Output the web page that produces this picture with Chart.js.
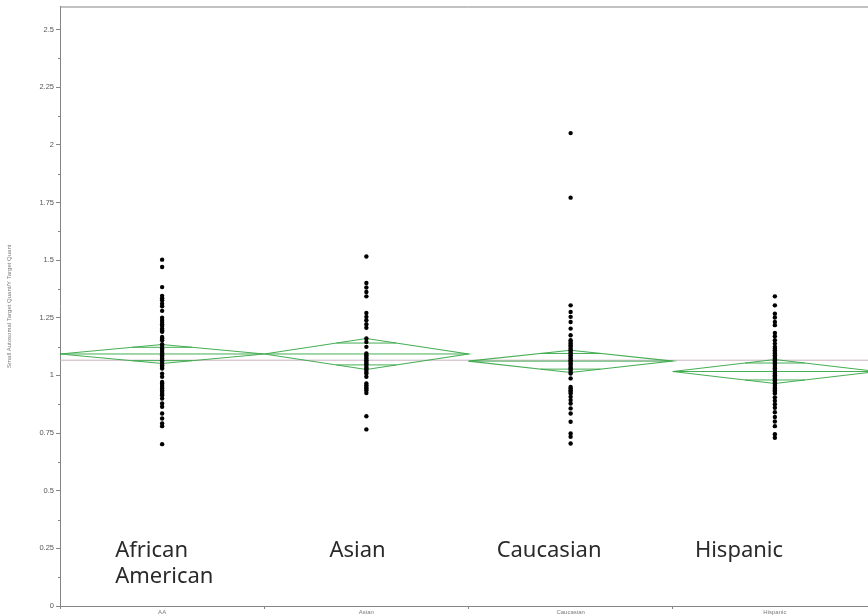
<!DOCTYPE html>
<html>
<head>
<meta charset="utf-8">
<script src="https://cdn.jsdelivr.net/npm/chart.js@4/dist/chart.umd.min.js"></script>
<style>
  html, body { margin: 0; padding: 0; background: #fff; overflow: hidden; width: 868px; height: 615px; }
  canvas { display: block; }
</style>
</head>
<body>
<canvas id="c" width="880" height="615"></canvas>
<script>
// Groups on the x axis
const groups = ['AA', 'Asian', 'Caucasian', 'Hispanic'];
const groupNames = [['African', 'American'], ['Asian'], ['Caucasian'], ['Hispanic']];

// Y axis ticks
const yTicks = [0, 0.25, 0.5, 0.75, 1, 1.25, 1.5, 1.75, 2, 2.25, 2.5];
const yMinorTicks = [0.125, 0.375, 0.625, 0.875, 1.125, 1.375, 1.625, 1.875, 2.125, 2.375];

// Individual ratios per group
const aaValues = [1.502, 1.470, 1.383, 1.345, 1.335, 1.326, 1.311, 1.300, 1.280, 1.250, 1.240, 1.232,
  1.222, 1.214, 1.203, 1.195, 1.189, 1.167, 1.160, 1.153, 1.135, 1.128, 1.117, 1.110, 1.102, 1.095,
  1.088, 1.080, 1.073, 1.066, 1.058, 1.051, 1.044, 1.037, 1.030, 1.008, 0.994, 0.972, 0.965, 0.958,
  0.950, 0.943, 0.935, 0.928, 0.920, 0.914, 0.900, 0.878, 0.864, 0.835, 0.813, 0.792, 0.780, 0.702];
const asianValues = [1.516, 1.401, 1.381, 1.362, 1.343, 1.271, 1.254, 1.239, 1.222, 1.207, 1.160, 1.145,
  1.124, 1.095, 1.087, 1.080, 1.073, 1.066, 1.059, 1.052, 1.045, 1.037, 1.030, 1.023, 1.015, 1.008,
  0.994, 0.965, 0.957, 0.950, 0.943, 0.936, 0.924, 0.823, 0.766];
const caucasianValues = [2.051, 1.771, 1.304, 1.275, 1.254, 1.232, 1.203, 1.174, 1.153, 1.145, 1.138,
  1.131, 1.124, 1.116, 1.109, 1.102, 1.095, 1.087, 1.080, 1.073, 1.066, 1.059, 1.052, 1.045, 1.037,
  1.030, 1.023, 1.015, 1.008, 0.987, 0.950, 0.943, 0.936, 0.929, 0.922, 0.907, 0.893, 0.878, 0.857,
  0.835, 0.799, 0.748, 0.734, 0.705];
const hispanicValues = [1.343, 1.304, 1.268, 1.251, 1.232, 1.218, 1.184, 1.170, 1.153, 1.138, 1.124,
  1.116, 1.109, 1.102, 1.095, 1.087, 1.080, 1.073, 1.066, 1.059, 1.052, 1.045, 1.037, 1.030, 1.023,
  1.015, 1.008, 1.001, 0.994, 0.987, 0.979, 0.972, 0.965, 0.958, 0.950, 0.943, 0.936, 0.929, 0.922,
  0.905, 0.890, 0.875, 0.860, 0.840, 0.820, 0.800, 0.780, 0.745, 0.730];

// Means diamonds: group mean and 95% confidence limits
const groupMeans = [1.093, 1.093, 1.062, 1.017];
const ciUpper = [1.134, 1.160, 1.109, 1.069];
const ciLower = [1.052, 1.026, 1.013, 0.965];
const grandMean = 1.066;

const groupValues = [aaValues, asianValues, caucasianValues, hispanicValues];
const GREEN = 'rgba(60,170,75,0.95)';
const AXIS = '#858585';

const datasets = [];

// grand mean reference line
datasets.push({
  type: 'line', showLine: true, order: 3,
  data: [{ x: -0.5, y: grandMean }, { x: 3.5, y: grandMean }],
  borderColor: 'rgba(195,170,185,0.9)', borderWidth: 1, pointRadius: 0, fill: false
});

groups.forEach((g, i) => {
  const m = groupMeans[i], hi = ciUpper[i], lo = ciLower[i];
  // diamond outline
  datasets.push({
    type: 'line', showLine: true, order: 2,
    data: [{ x: i - 0.5, y: m }, { x: i, y: hi }, { x: i + 0.5, y: m }, { x: i, y: lo }, { x: i - 0.5, y: m }],
    borderColor: GREEN, borderWidth: 1.1, pointRadius: 0, fill: false, tension: 0
  });
  // mean line across the diamond
  datasets.push({
    type: 'line', showLine: true, order: 2,
    data: [{ x: i - 0.5, y: m }, { x: i + 0.5, y: m }],
    borderColor: GREEN, borderWidth: 1, pointRadius: 0, fill: false
  });
  // overlap marks
  const k = Math.SQRT1_2;
  const w = 0.5 * (1 - k);
  [m + (hi - m) * k, m - (m - lo) * k].forEach(yv => {
    datasets.push({
      type: 'line', showLine: true, order: 2,
      data: [{ x: i - w, y: yv }, { x: i + w, y: yv }],
      borderColor: GREEN, borderWidth: 1, pointRadius: 0, fill: false
    });
  });
  // individual points
  datasets.push({
    type: 'scatter', order: 0,
    data: groupValues[i].map(v => ({ x: i, y: v })),
    backgroundColor: '#000', borderWidth: 0, pointRadius: 2.2, pointHoverRadius: 2.2
  });
});

const decorPlugin = {
  id: 'decor',
  beforeDatasetsDraw(chart) {
    const { ctx, chartArea: a, scales: { y } } = chart;
    ctx.save();
    ctx.strokeStyle = AXIS;
    ctx.lineWidth = 1;
    // top and right frame
    ctx.beginPath();
    ctx.moveTo(a.left, a.top + 0.5);
    ctx.lineTo(a.right, a.top + 0.5);
    ctx.moveTo(a.right - 0.5, a.top);
    ctx.lineTo(a.right - 0.5, a.bottom);
    ctx.stroke();
    // minor ticks on y axis
    ctx.beginPath();
    yMinorTicks.forEach(v => {
      const py = Math.round(y.getPixelForValue(v)) + 0.5;
      ctx.moveTo(a.left - 2, py);
      ctx.lineTo(a.left, py);
    });
    ctx.stroke();
    ctx.restore();
  },
  afterDraw(chart) {
    const { ctx, scales: { x } } = chart;
    const offsets = [-47, -37, -74, -80];
    ctx.save();
    ctx.font = '22px "Noto Sans"';
    ctx.fillStyle = '#2a2a2a';
    ctx.textAlign = 'left';
    ctx.textBaseline = 'alphabetic';
    groupNames.forEach((lines, i) => {
      const px = x.getPixelForValue(i) + offsets[i];
      lines.forEach((t, j) => ctx.fillText(t, px, 557 + j * 26));
    });
    ctx.restore();
  }
};

new Chart(document.getElementById('c'), {
  type: 'scatter',
  data: { datasets },
  options: {
    responsive: false,
    animation: false,
    events: [],
    layout: { padding: { top: 6, right: 3, left: 0, bottom: 0 } },
    plugins: { legend: { display: false }, tooltip: { enabled: false } },
    scales: {
      x: {
        type: 'linear', min: -0.5, max: 3.5,
        afterBuildTicks: s => { s.ticks = [-0.5, 0, 0.5, 1, 1.5, 2, 2.5, 3, 3.5].map(v => ({ value: v })); },
        afterFit: s => { s.height = 9; },
        grid: {
          drawOnChartArea: false, tickLength: 3,
          tickColor: c => (c.tick && Number.isInteger(c.tick.value)) ? 'rgba(0,0,0,0)' : AXIS
        },
        border: { color: AXIS },
        ticks: {
          autoSkip: false, maxRotation: 0, padding: 0,
          font: { size: 6, family: 'Liberation Sans' }, color: '#7a7a7a',
          callback: v => Number.isInteger(v) ? groups[v] : ''
        }
      },
      y: {
        min: 0, max: 2.6,
        afterBuildTicks: s => { s.ticks = yTicks.map(v => ({ value: v })); },
        afterFit: s => { s.width = 60; },
        grid: { drawOnChartArea: false, tickLength: 4, tickColor: AXIS },
        border: { color: AXIS },
        ticks: {
          padding: 2, font: { size: 7.5, family: 'Liberation Sans' }, color: '#555',
          callback: v => String(v)
        },
        title: {
          display: true, text: 'Small Autosomal Target Quant/Y Target Quant',
          font: { size: 6, family: 'Liberation Sans' }, color: '#7a7a7a',
          padding: { top: 6, bottom: 0 }
        }
      }
    }
  },
  plugins: [decorPlugin]
});
</script>
</body>
</html>
